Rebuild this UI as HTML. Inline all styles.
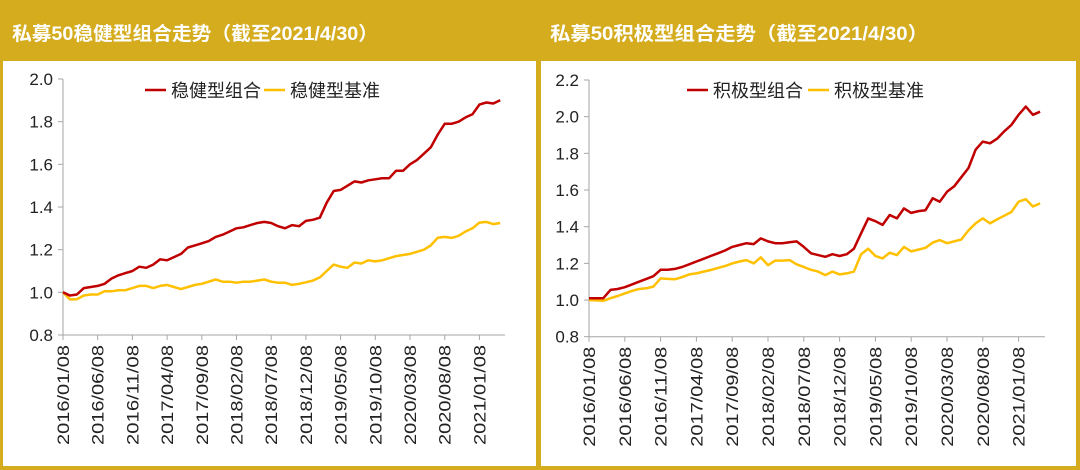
<!DOCTYPE html>
<html><head><meta charset="utf-8"><style>
html,body{margin:0;padding:0;background:#D4AC1E;}
svg{display:block;font-family:"Liberation Sans","Noto Sans CJK SC",sans-serif;}
</style></head><body>
<svg id="s" width="1080" height="470" viewBox="0 0 1080 470">
<rect x="0" y="0" width="1080" height="470" fill="#D4AC1E"/>
<text x="12" y="40" fill="#fff" font-size="19" font-weight="bold" textLength="366" lengthAdjust="spacingAndGlyphs">私募50稳健型组合走势（截至2021/4/30）</text>
<text x="550" y="40" fill="#fff" font-size="19" font-weight="bold" textLength="378" lengthAdjust="spacingAndGlyphs">私募50积极型组合走势（截至2021/4/30）</text>
<rect x="3" y="61" width="533" height="405" fill="#fff"/>
<rect x="541" y="61" width="535" height="405" fill="#fff"/>
<g id="L"></g>
<g id="R"></g>
</svg>
<script>
const dateLabels=["2016/01/08","2016/06/08","2016/11/08","2017/04/08","2017/09/08","2018/02/08","2018/07/08","2018/12/08","2019/05/08","2019/10/08","2020/03/08","2020/08/08","2021/01/08"];
const leftYTicks=[0.8,1.0,1.2,1.4,1.6,1.8,2.0];
const rightYTicks=[0.8,1.0,1.2,1.4,1.6,1.8,2.0,2.2];
const leftPortfolio=[1.00,0.985,0.99,1.02,1.025,1.03,1.04,1.065,1.08,1.09,1.10,1.12,1.115,1.13,1.155,1.15,1.165,1.18,1.21,1.22,1.23,1.24,1.26,1.27,1.285,1.30,1.305,1.315,1.325,1.33,1.325,1.31,1.30,1.315,1.31,1.335,1.34,1.35,1.42,1.475,1.48,1.50,1.52,1.515,1.525,1.53,1.535,1.535,1.57,1.57,1.60,1.62,1.65,1.68,1.74,1.79,1.79,1.80,1.82,1.835,1.88,1.89,1.885,1.90];
const leftBenchmark=[1.00,0.967,0.968,0.985,0.99,0.99,1.005,1.005,1.01,1.01,1.02,1.03,1.03,1.02,1.03,1.035,1.025,1.015,1.025,1.035,1.04,1.05,1.06,1.05,1.05,1.045,1.05,1.05,1.055,1.06,1.05,1.045,1.045,1.035,1.04,1.047,1.055,1.07,1.10,1.13,1.12,1.115,1.14,1.135,1.15,1.145,1.15,1.16,1.17,1.175,1.18,1.19,1.20,1.22,1.256,1.26,1.255,1.265,1.285,1.30,1.327,1.33,1.32,1.325];
const rightPortfolio=[1.01,1.01,1.01,1.055,1.06,1.07,1.085,1.10,1.115,1.13,1.165,1.165,1.17,1.18,1.195,1.21,1.225,1.24,1.255,1.27,1.29,1.30,1.31,1.305,1.336,1.32,1.31,1.31,1.315,1.32,1.29,1.255,1.245,1.236,1.25,1.24,1.25,1.28,1.364,1.445,1.43,1.41,1.464,1.445,1.50,1.475,1.485,1.49,1.555,1.536,1.59,1.62,1.67,1.72,1.82,1.864,1.855,1.88,1.92,1.955,2.01,2.055,2.01,2.027];
const rightBenchmark=[1.0,0.998,0.996,1.01,1.022,1.036,1.05,1.06,1.064,1.073,1.118,1.115,1.113,1.125,1.14,1.145,1.155,1.164,1.175,1.185,1.20,1.21,1.218,1.20,1.233,1.19,1.215,1.215,1.218,1.195,1.18,1.165,1.155,1.136,1.155,1.14,1.145,1.155,1.25,1.28,1.24,1.227,1.258,1.245,1.29,1.265,1.275,1.285,1.313,1.327,1.31,1.32,1.33,1.38,1.418,1.445,1.418,1.44,1.46,1.48,1.536,1.55,1.51,1.527];
const leftLegend=["稳健型组合","稳健型基准"];
const rightLegend=["积极型组合","积极型基准"];
const NS="http://www.w3.org/2000/svg";
function mk(p,t,a){const e=document.createElementNS(NS,t);for(const k in a)e.setAttribute(k,a[k]);p.appendChild(e);return e;}
function draw(g,cfg){
  const x=m=>cfg.x0+m*cfg.mw;
  const y=v=>cfg.yBot-(v-cfg.yMin)/(cfg.yMax-cfg.yMin)*(cfg.yBot-cfg.yTop);
  const ax=mk(g,"line",{x1:cfg.x0,y1:cfg.yTop,x2:cfg.x0,y2:cfg.yBot,stroke:"#a6a6a6","stroke-width":1});
  
  
  const xa=mk(g,"line",{x1:cfg.x0,y1:cfg.yBot,x2:cfg.xEnd,y2:cfg.yBot,stroke:"#a6a6a6","stroke-width":1});
  
  
  cfg.yt.forEach(v=>{
    const yy=y(v);
    const tk=mk(g,"line",{x1:cfg.x0-5,y1:yy,x2:cfg.x0,y2:yy,stroke:"#a6a6a6"});
    
    
    const t=mk(g,"text",{x:cfg.x0-10,y:yy+6,"text-anchor":"end","font-size":17,fill:"#222"});
    t.textContent=v.toFixed(1);
    
    
  });
  dateLabels.forEach((d,i)=>{
    const xx=x(i*5);
    const tk=mk(g,"line",{x1:xx,y1:cfg.yBot,x2:xx,y2:cfg.yBot+5,stroke:"#a6a6a6"});
    
    
    const t=mk(g,"text",{x:0,y:0,"text-anchor":"end","font-size":17,fill:"#222",textLength:100,lengthAdjust:"spacingAndGlyphs",transform:`translate(${xx+6},${cfg.yBot+10}) rotate(-90)`});
    t.textContent=d;
    
    
  });
  [[cfg.s2,"#FFC000","benchmark-line"],[cfg.s1,"#C00000","portfolio-line"]].forEach(([s,c,n])=>{
    const p=mk(g,"polyline",{points:s.map((v,i)=>x(i).toFixed(1)+","+y(v).toFixed(1)).join(" "),fill:"none",stroke:c,"stroke-width":2.5,"stroke-linejoin":"round"});
    
    
  });
  [[cfg.lg[0],"#C00000",cfg.lx[0]],[cfg.lg[1],"#FFC000",cfg.lx[1]]].forEach(([txt,c,lx],i)=>{
    const l=mk(g,"line",{x1:lx,y1:90,x2:lx+21,y2:90,stroke:c,"stroke-width":2.5});
    
    
    const t=mk(g,"text",{x:lx+26,y:97,"font-size":18,fill:"#222"});
    t.textContent=txt;
    
    
  });
}
draw(document.getElementById("L"),{x0:63,mw:6.94,xEnd:505,yTop:79,yBot:335,yMin:0.8,yMax:2.0,yt:leftYTicks,s1:leftPortfolio,s2:leftBenchmark,lg:leftLegend,lx:[145,264]});
draw(document.getElementById("R"),{x0:589,mw:7.16,xEnd:1045,yTop:80,yBot:336.7,yMin:0.8,yMax:2.2,yt:rightYTicks,s1:rightPortfolio,s2:rightBenchmark,lg:rightLegend,lx:[687,808]});
</script>
</body></html>
